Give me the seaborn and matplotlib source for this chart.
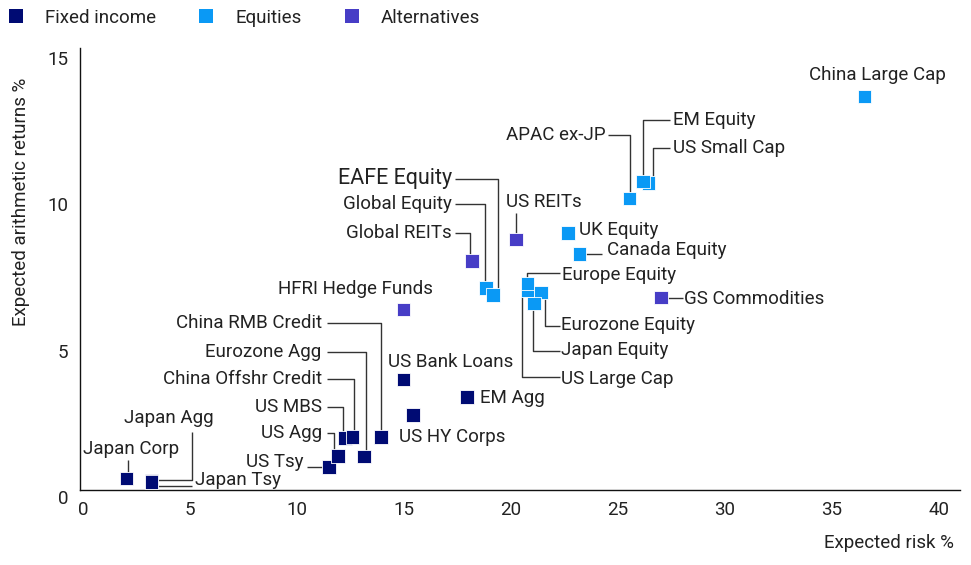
import matplotlib
matplotlib.use("Agg")
import matplotlib.pyplot as plt
import matplotlib.transforms as mtransforms
from matplotlib.lines import Line2D
import pandas as pd
import seaborn as sns

# ---- data ----
assets = [
    "Japan Corp", "Japan Agg", "Japan Tsy", "US Tsy", "US Agg", "US MBS",
    "China Offshr Credit", "Eurozone Agg", "China RMB Credit", "US HY Corps",
    "US Bank Loans", "EM Agg",
    "HFRI Hedge Funds", "Global REITs", "US REITs", "GS Commodities",
    "Global Equity", "EAFE Equity", "US Large Cap", "Europe Equity",
    "Eurozone Equity", "Japan Equity", "UK Equity", "Canada Equity",
    "APAC ex-JP", "US Small Cap", "EM Equity", "China Large Cap",
]
asset_class = (["Fixed income"] * 12 + ["Alternatives"] * 4 + ["Equities"] * 12)
expected_risk = [
    2.03, 3.21, 3.21, 11.49, 11.91, 12.25, 12.61, 13.14, 13.94, 15.42, 14.98, 17.95,
    14.98, 18.18, 20.25, 27.03,
    18.85, 19.16, 20.77, 20.77, 21.41, 21.08, 22.68, 23.21, 25.55, 26.44, 26.19, 36.53,
]
expected_return = [
    0.39, 0.30, 0.28, 0.78, 1.16, 1.77, 1.82, 1.14, 1.82, 2.56, 3.78, 3.19,
    6.18, 7.83, 8.57, 6.58,
    6.91, 6.67, 6.85, 7.06, 6.75, 6.38, 8.80, 8.07, 9.97, 10.50, 10.55, 13.46,
]

class_order = ["Fixed income", "Equities", "Alternatives"]
class_colors = {"Fixed income": "#000B73", "Equities": "#0A99F5", "Alternatives": "#473DC6"}

# label placement: text x, text y, alignment, leader vertices (None -> use point value)
label_layout = {
    "Japan Corp": (2.27, 1.40, "center", [(2.09, 1.02), (2.09, None)]),
    "Japan Agg": (3.99, 2.45, "center", [(5.11, 1.99), (5.11, 0.34), (None, 0.34)]),
    "Japan Tsy": (5.24, 0.34, "left", [(5.08, 0.14), (None, 0.14)]),
    "US Tsy": (10.30, 0.97, "right", [(10.46, None)]),
    "US Agg": (11.16, 1.94, "right", [(11.42, 1.94), (11.75, 1.94), (11.75, None)]),
    "US MBS": (11.16, 2.85, "right", [(11.42, 2.85), (12.17, 2.85), (12.17, None)]),
    "China Offshr Credit": (11.16, 3.79, "right", [(11.42, 3.79), (12.68, 3.79), (12.68, None)]),
    "Eurozone Agg": (11.16, 4.72, "right", [(11.42, 4.72), (13.25, 4.72), (13.25, None)]),
    "China RMB Credit": (11.16, 5.70, "right", [(11.42, 5.70), (13.94, 5.70), (13.94, None)]),
    "US HY Corps": (14.79, 1.82, "left", None),
    "US Bank Loans": (14.28, 4.38, "left", None),
    "EM Agg": (18.54, 3.14, "left", None),
    "HFRI Hedge Funds": (16.37, 6.86, "right", None),
    "Global REITs": (17.24, 8.79, "right", [(17.40, 8.79), (18.07, 8.79), (18.07, None)]),
    "US REITs": (19.78, 9.85, "left", [(20.25, 9.47), (20.25, None)]),
    "GS Commodities": (28.11, 6.53, "left", [(28.03, None)]),
    "Global Equity": (17.24, 9.79, "right", [(17.40, 9.79), (18.80, 9.79), (18.80, None)]),
    "EAFE Equity": (17.24, 10.65, "right", [(17.40, 10.65), (19.42, 10.65), (19.42, None)]),
    "US Large Cap": (22.36, 3.79, "left", [(22.31, 3.87), (20.52, 3.87), (20.52, None)]),
    "Europe Equity": (22.39, 7.37, "left", [(22.31, 7.42), (20.77, 7.42), (20.77, None)]),
    "Eurozone Equity": (22.36, 5.66, "left", [(22.31, 5.60), (21.58, 5.60), (21.58, None)]),
    "Japan Equity": (22.36, 4.78, "left", [(22.31, 4.76), (21.06, 4.76), (21.06, None)]),
    "UK Equity": (23.20, 8.88, "left", None),
    "Canada Equity": (24.49, 8.20, "left", [(24.26, None)]),
    "APAC ex-JP": (24.42, 12.13, "right", [(24.56, 12.13), (25.55, 12.13), (25.55, None)]),
    "US Small Cap": (27.58, 11.69, "left", [(27.46, 11.69), (26.67, 11.69), (26.67, None)]),
    "EM Equity": (27.58, 12.64, "left", [(27.46, 12.64), (26.16, 12.64), (26.16, None)]),
    "China Large Cap": (37.16, 14.18, "center", None),
}

df = pd.DataFrame({
    "asset": assets,
    "asset_class": asset_class,
    "risk": expected_risk,
    "ret": expected_return,
})

sns.set_theme(style="white")
plt.rcParams["font.family"] = ["Roboto", "DejaVu Sans"]
text_color = "#222222"
fs = 13.5

fig = plt.figure(figsize=(9.71, 5.65), dpi=100)
ax = fig.add_axes([80 / 971, 75 / 565, 880 / 971, 442 / 565])

# leader lines first so markers sit on top
for name, px, py in zip(df["asset"], df["risk"], df["ret"]):
    tx, ty, ha, leader = label_layout[name]
    if leader:
        xs = [px if vx is None else vx for vx, vy in leader] + [px]
        ys = [py if vy is None else vy for vx, vy in leader] + [py]
        ax.plot(xs, ys, color="#333333", lw=1.0, zorder=1, solid_capstyle="butt")
    size = 15.5 if name == "EAFE Equity" else fs
    ax.text(tx, ty, name, ha=ha, va="center", fontsize=size, color=text_color, zorder=4)

sns.scatterplot(data=df, x="risk", y="ret", hue="asset_class", hue_order=class_order,
                palette=class_colors, marker="s", s=95, edgecolor="white", linewidth=0.6,
                legend=False, ax=ax, zorder=3)

ax.set_xlim(-0.14, 41.0)
ax.set_ylim(0, 15.12)
ax.set_xticks(range(0, 41, 5))
ax.set_yticks([0, 5, 10, 15])
sns.despine(ax=ax)
for side in ["left", "bottom"]:
    ax.spines[side].set_color("#111111")
    ax.spines[side].set_linewidth(1.0)
ax.tick_params(axis="both", length=0, labelsize=fs, labelcolor=text_color)
ax.tick_params(axis="x", pad=7.9)
ax.tick_params(axis="y", pad=8.4)
ax.grid(False)

ax.set_xlabel("Expected risk %", fontsize=fs, color=text_color, ha="right", va="center")
ax.xaxis.set_label_coords(0.993, -0.12)
ax.set_ylabel("Expected arithmetic returns %", fontsize=fs, color=text_color, va="center")
ax.yaxis.set_label_coords(-0.0676, 0.652)

# y tick labels sit a little below their value in the reference
shift = mtransforms.ScaledTranslation(0, -0.067, fig.dpi_scale_trans)
for lab in ax.get_yticklabels():
    lab.set_transform(lab.get_transform() + shift)

handles = [Line2D([0], [0], marker="s", linestyle="none", markersize=10.5,
                  markerfacecolor=class_colors[c], markeredgewidth=0) for c in class_order]
fig.legend(handles, class_order, loc="upper left", bbox_to_anchor=(0.0088, 0.984),
           ncol=3, frameon=False, fontsize=fs, handlelength=0.8, handletextpad=1.13,
           columnspacing=2.3, borderpad=0, borderaxespad=0, labelcolor=text_color)

fig.savefig("out.png", dpi=100)
